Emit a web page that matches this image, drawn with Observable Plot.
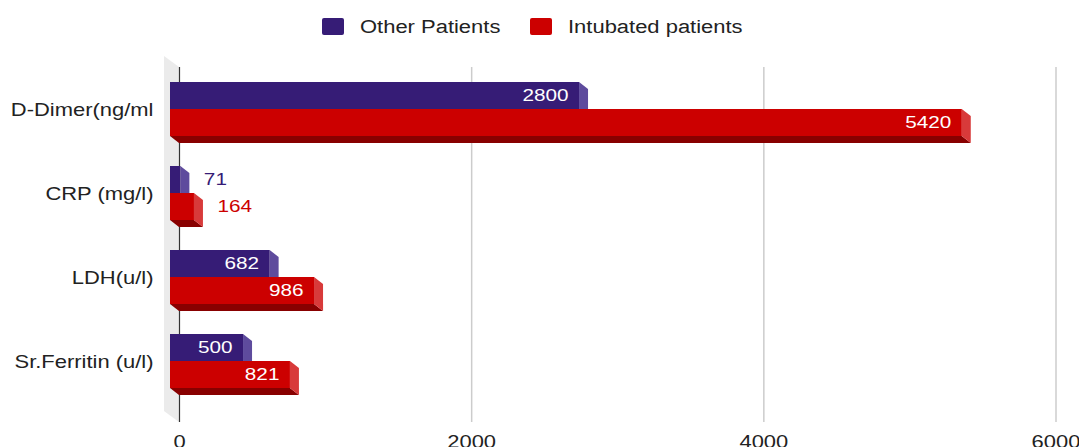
<!DOCTYPE html>
<html><head><meta charset="utf-8">
<script src="https://cdn.jsdelivr.net/npm/d3@7"></script>
<script src="https://cdn.jsdelivr.net/npm/@observablehq/plot@0.6"></script>
<style>
body{margin:0;background:#fff;font-family:"Liberation Sans",Arial,sans-serif;}
#legend{position:relative;height:50px;width:1079px;}
.sw{position:absolute;top:18px;width:22px;height:17px;border-radius:2px;}
.lt{position:absolute;top:17px;font-size:18px;color:#222;transform:scaleX(1.22);transform-origin:left center;line-height:20px;white-space:nowrap;}
#chart svg{display:block;}
</style></head><body>
<div id="legend"></div>
<div id="chart"></div>
<script>
// ---- data ----
const categories = ["D-Dimer(ng/ml", "CRP (mg/l)", "LDH(u/l)", "Sr.Ferritin (u/l)"];
const seriesNames = ["Other Patients", "Intubated patients"];
const otherValues = [2800, 71, 682, 500];
const intubatedValues = [5420, 164, 986, 821];
const xTicks = [0, 2000, 4000, 6000];

// ---- styles ----
const purple = {front: "#361c76", side: "#5e4b9d", bottom: "#22104e"};
const red = {front: "#cc0000", side: "#d83a3a", bottom: "#880000"};
const DX = 9, DY = 7, STRETCH = 1.22;
const FONT = "Liberation Sans, Arial, sans-serif";

// legend
const legend = document.getElementById("legend");
[[seriesNames[0], purple.front, 322, 360], [seriesNames[1], red.front, 530, 568]].forEach(([name, col, sx, tx]) => {
  const s = document.createElement("div"); s.className = "sw"; s.style.left = sx + "px"; s.style.background = col; legend.appendChild(s);
  const t = document.createElement("div"); t.className = "lt"; t.style.left = tx + "px"; t.textContent = name; legend.appendChild(t);
});

const otherData = categories.map((c, i) => ({cat: c, value: otherValues[i]}));
const intuData = categories.map((c, i) => ({cat: c, value: intubatedValues[i]}));

function bw(scales) {
  return scales.y.bandwidth ? scales.y.bandwidth() : scales.scales.y.bandwidth;
}

function faces(data, col, insetT, insetB) {
  return (index, scales, values, dims) => {
    const g = d3.create("svg:g");
    const b = bw(scales);
    data.forEach(d => {
      const y0 = scales.y(d.cat);
      const yt = y0 + insetT, yb = y0 + b - insetB;
      const xf0 = scales.x(0) - DX, xfv = scales.x(d.value) - DX;
      g.append("path").attr("fill", col.bottom)
        .attr("d", `M${xf0},${yb}L${xfv},${yb}L${xfv + DX},${yb + DY}L${xf0 + DX},${yb + DY}Z`);
      g.append("path").attr("fill", col.side)
        .attr("d", `M${xfv},${yt}L${xfv + DX},${yt + DY}L${xfv + DX},${yb + DY}L${xfv},${yb}Z`);
    });
    return g.node();
  };
}

function wall(index, scales, values, dims) {
  const x0 = scales.x(0);
  const top = dims.marginTop, bot = dims.height - dims.marginBottom + 19;
  return d3.create("svg:path").attr("fill", "#ebebeb")
    .attr("d", `M${x0 - 15},${top - 11}L${x0},${top}L${x0},${bot}L${x0 - 15},${bot - 11}Z`).node();
}

function valueLabels(data, col, dy) {
  const inside = data.filter(d => d.value >= 300);
  const outside = data.filter(d => d.value < 300);
  return [
    Plot.text(inside, {x: "value", y: "cat", text: d => String(d.value), textAnchor: "end", dx: -20, dy, fill: "#fff", fontSize: 17, fontFamily: FONT}),
    Plot.text(outside, {x: "value", y: "cat", text: d => String(d.value), textAnchor: "start", dx: 14, dy, fill: col.front, fontSize: 17, fontFamily: FONT})
  ];
}

const chart = Plot.plot({
  width: 1079,
  height: 397,
  marginLeft: 179,
  marginRight: 23.5,
  marginTop: 17,
  marginBottom: 44,
  style: {fontFamily: FONT, background: "#fff"},
  x: {domain: [0, 6000], axis: null},
  y: {domain: categories, padding: 0, axis: null},
  marks: [
    wall,
    Plot.ruleX(xTicks.slice(1), {stroke: "#cccccc", strokeWidth: 1.5, insetBottom: -19}),
    Plot.ruleX([0], {stroke: "#333", strokeWidth: 1.2, insetBottom: -19}),
    faces(otherData, purple, 15, 42),
    Plot.barX(otherData, {x1: 0, x2: "value", y: "cat", fill: purple.front, dx: -DX, insetTop: 15, insetBottom: 42}),
    faces(intuData, red, 42, 15),
    Plot.barX(intuData, {x1: 0, x2: "value", y: "cat", fill: red.front, dx: -DX, insetTop: 42, insetBottom: 15}),
    ...valueLabels(otherData, purple, -13.5),
    ...valueLabels(intuData, red, 13.5),
    Plot.text(xTicks, {x: d => d, text: d => String(d), frameAnchor: "bottom", dy: 44, fontSize: 18, fill: "#222", fontFamily: FONT}),
    Plot.text(categories, {y: d => d, text: d => d, frameAnchor: "left", textAnchor: "end", dx: -26, dy: 1, fontSize: 18, fill: "#222", fontFamily: FONT})
  ]
});

chart.querySelectorAll("text").forEach(t => {
  const tr = t.getAttribute("transform") || "";
  const xa = +(t.getAttribute("x") || 0);
  t.setAttribute("transform", `${tr} translate(${xa},0) scale(${STRETCH},1) translate(${-xa},0)`);
});
document.getElementById("chart").appendChild(chart);
</script>
</body></html>
